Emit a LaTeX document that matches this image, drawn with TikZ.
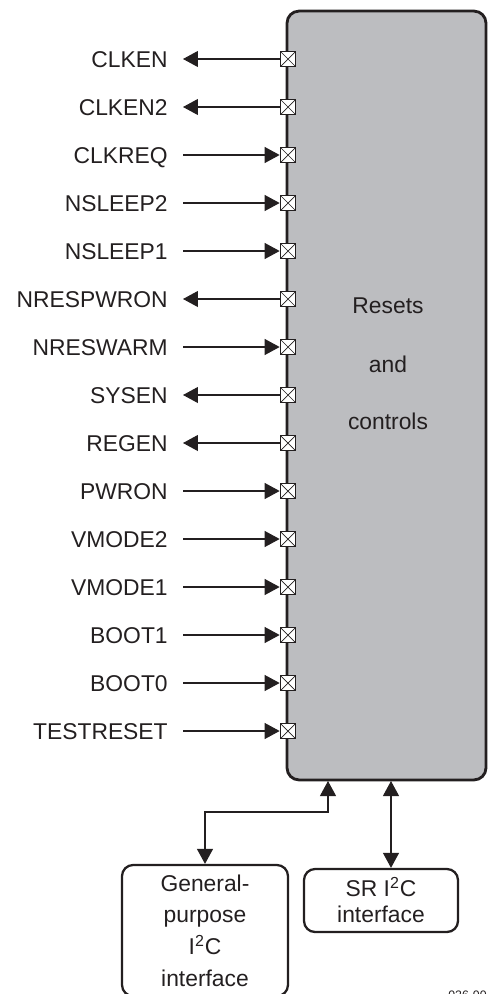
\documentclass[tikz,border=0pt]{standalone}
\usepackage{fontspec}
\setmainfont{Liberation Sans}
\usepackage{tikz}
\usetikzlibrary{arrows.meta,positioning}
\definecolor{rcgris}{HTML}{BCBDC0}
\definecolor{rcnoir}{HTML}{231F20}
\tikzset{
  pinbox/.style={draw=rcnoir,fill=white,line width=0.7pt,minimum size=0.31cm,inner sep=0pt,
    path picture={\draw[rcnoir,line width=0.4pt] (path picture bounding box.north west) -- (path picture bounding box.south east)
      (path picture bounding box.south west) -- (path picture bounding box.north east);}},
  siglbl/.style={anchor=east,inner xsep=0.3cm,inner ysep=0pt,text height=9.3pt,text depth=0pt,text=rcnoir},
  sigin/.style={-{Triangle[length=0.3cm,width=0.32cm]},rcnoir,line width=0.6pt},
  sigout/.style={-{Triangle[length=0.3cm,width=0.32cm]},rcnoir,line width=0.6pt},
  dbl/.style={{Triangle[length=0.3cm,width=0.32cm]}-{Triangle[length=0.3cm,width=0.32cm]},rcnoir,line width=0.6pt},
  ifbox/.style={draw=rcnoir,line width=1.3pt,rounded corners=0.22cm,align=center,text=rcnoir}
}
\begin{document}
\begin{tikzpicture}[x=0.02cm,y=-0.02cm,every node/.style={font=\fontsize{13}{15}\selectfont}]
  \useasboundingbox (0,0) rectangle (487,994);
  % Bloc principal
  \node[draw=rcnoir,fill=rcgris,line width=1.6pt,rounded corners=0.24cm,minimum width=3.98cm,minimum height=15.38cm] (rc) at (386.5,395.5) {};
  \node[anchor=base,text=rcnoir] (rc1) at (388,313) {Resets};
  \node[anchor=base,text=rcnoir] (rc2) at (388,372) {and};
  \node[anchor=base,text=rcnoir] (rc3) at (388,429) {controls};
  % --- Broches ---
  \node[pinbox] (clkenp) at (288,59) {};
  \node[siglbl] (clken) at (183,59) {CLKEN};
  \draw[sigout] (clkenp) -- (clken);
  \node[pinbox] (clken2p) at (288,107) {};
  \node[siglbl] (clken2) at (183,107) {CLKEN2};
  \draw[sigout] (clken2p) -- (clken2);
  \node[pinbox] (clkreqp) at (288,155) {};
  \node[siglbl] (clkreq) at (183,155) {CLKREQ};
  \draw[sigin] (clkreq) -- (clkreqp);
  \node[pinbox] (nsleep2p) at (288,203) {};
  \node[siglbl] (nsleep2) at (183,203) {NSLEEP2};
  \draw[sigin] (nsleep2) -- (nsleep2p);
  \node[pinbox] (nsleep1p) at (288,251) {};
  \node[siglbl] (nsleep1) at (183,251) {NSLEEP1};
  \draw[sigin] (nsleep1) -- (nsleep1p);
  \node[pinbox] (nrespwronp) at (288,299) {};
  \node[siglbl] (nrespwron) at (183,299) {NRESPWRON};
  \draw[sigout] (nrespwronp) -- (nrespwron);
  \node[pinbox] (nreswarmp) at (288,347) {};
  \node[siglbl] (nreswarm) at (183,347) {NRESWARM};
  \draw[sigin] (nreswarm) -- (nreswarmp);
  \node[pinbox] (sysenp) at (288,395) {};
  \node[siglbl] (sysen) at (183,395) {SYSEN};
  \draw[sigout] (sysenp) -- (sysen);
  \node[pinbox] (regenp) at (288,443) {};
  \node[siglbl] (regen) at (183,443) {REGEN};
  \draw[sigout] (regenp) -- (regen);
  \node[pinbox] (pwronp) at (288,491) {};
  \node[siglbl] (pwron) at (183,491) {PWRON};
  \draw[sigin] (pwron) -- (pwronp);
  \node[pinbox] (vmode2p) at (288,539) {};
  \node[siglbl] (vmode2) at (183,539) {VMODE2};
  \draw[sigin] (vmode2) -- (vmode2p);
  \node[pinbox] (vmode1p) at (288,587) {};
  \node[siglbl] (vmode1) at (183,587) {VMODE1};
  \draw[sigin] (vmode1) -- (vmode1p);
  \node[pinbox] (boot1p) at (288,635) {};
  \node[siglbl] (boot1) at (183,635) {BOOT1};
  \draw[sigin] (boot1) -- (boot1p);
  \node[pinbox] (boot0p) at (288,683) {};
  \node[siglbl] (boot0) at (183,683) {BOOT0};
  \draw[sigin] (boot0) -- (boot0p);
  \node[pinbox] (testresetp) at (288,731) {};
  \node[siglbl] (testreset) at (183,731) {TESTRESET};
  \draw[sigin] (testreset) -- (testresetp);
  % --- Interfaces I2C ---
  \node[ifbox,minimum width=3.32cm,minimum height=2.62cm,font=\fontsize{13}{18}\selectfont] (gp) at (205,930.5)
    {General-\\purpose\\I\textsuperscript{2}C\\interface};
  \node[ifbox,minimum width=3.08cm,minimum height=1.26cm,font=\fontsize{13}{15}\selectfont] (sr) at (381,900.5)
    {SR I\textsuperscript{2}C\\interface};
  \coordinate (gptap) at (328,781);
  \coordinate (srtap) at (391,781);
  \draw[dbl] (gptap) -- ++(0,31) -| (gp.north);
  \draw[dbl] (srtap) -- (srtap |- sr.north);
  % Reference
  \node[anchor=base west,inner sep=0pt,font=\fontsize{7}{8}\selectfont,text=rcnoir] (ref) at (448,999) {026-00};
\end{tikzpicture}
\end{document}
